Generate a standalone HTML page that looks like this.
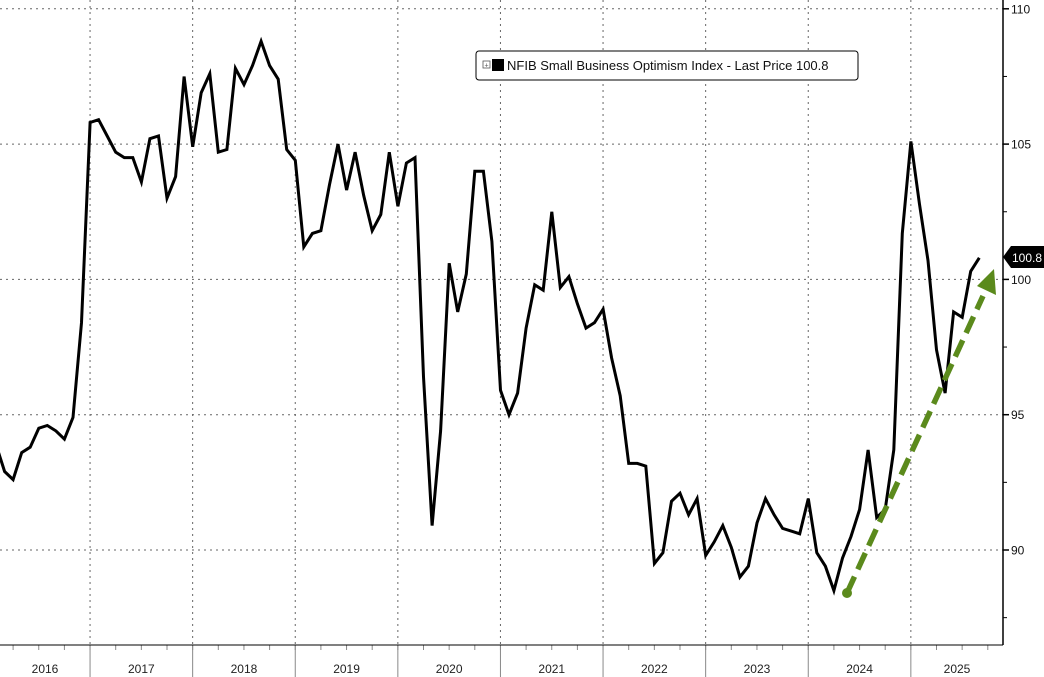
<!DOCTYPE html>
<html><head><meta charset="utf-8"><style>
html,body{margin:0;padding:0;background:#fff;}
svg{display:block;font-family:"Liberation Sans",sans-serif;}
</style></head><body>
<svg width="1044" height="677" viewBox="0 0 1044 677" xmlns="http://www.w3.org/2000/svg">
<rect width="1044" height="677" fill="#fff"/>
<g id="grid" stroke="#666" stroke-width="1" stroke-dasharray="2,4">
</g>
<g id="axes"></g>
<polyline id="line" fill="none" stroke="#000" stroke-width="3" stroke-linejoin="miter"/>
<g id="arrow"></g>
<rect x="476" y="51" width="382" height="29" rx="3" fill="#fff" stroke="#000" stroke-width="1"/>
<rect x="483" y="61" width="7" height="7" fill="none" stroke="#555" stroke-width="0.8"/>
<text x="486.5" y="67.5" font-size="7" text-anchor="middle" fill="#555">+</text>
<rect x="492" y="59" width="12" height="12" fill="#000"/>
<text x="507" y="70" font-size="13" fill="#111">NFIB Small Business Optimism Index - Last Price 100.8</text>
<script>
var d=[93.9,92.9,92.6,93.6,93.8,94.5,94.6,94.4,94.1,94.9,98.4,105.8,
105.9,105.3,104.7,104.5,104.5,103.6,105.2,105.3,103.0,103.8,107.5,104.9,
106.9,107.6,104.7,104.8,107.8,107.2,107.9,108.8,107.9,107.4,104.8,104.4,
101.2,101.7,101.8,103.5,105.0,103.3,104.7,103.1,101.8,102.4,104.7,102.7,
104.3,104.5,96.4,90.9,94.4,100.6,98.8,100.2,104.0,104.0,101.4,95.9,
95.0,95.8,98.2,99.8,99.6,102.5,99.7,100.1,99.1,98.2,98.4,98.9,
97.1,95.7,93.2,93.2,93.1,89.5,89.9,91.8,92.1,91.3,91.9,89.8,
90.3,90.9,90.1,89.0,89.4,91.0,91.9,91.3,90.8,90.7,90.6,91.9,
89.9,89.4,88.5,89.7,90.5,91.5,93.7,91.2,91.5,93.7,101.7,105.1,
102.8,100.7,97.4,95.8,98.8,98.6,100.3,100.8];
function X(i){return -4+i*8.55;}
function Y(v){return 550-(v-90)*27.06;}
var ns="http://www.w3.org/2000/svg";
document.getElementById('line').setAttribute('points',d.map(function(v,i){return X(i).toFixed(1)+','+Y(v).toFixed(1)}).join(' '));
var g=document.getElementById('grid'),a=document.getElementById('axes');
function el(p,t,at,txt){var e=document.createElementNS(ns,t);for(var k in at)e.setAttribute(k,at[k]);if(txt)e.textContent=txt;p.appendChild(e);return e;}
[110,105,100,95,90].forEach(function(v){var y=Y(v);el(g,'line',{x1:0,x2:1003,y1:y,y2:y});
el(a,'line',{x1:1003,x2:1009,y1:y,y2:y,stroke:'#000','stroke-width':1.5});
el(a,'text',{x:1011,y:y+4.5,'font-size':12,fill:'#111'},String(v));});
[107.5,102.5,97.5,92.5,87.5].forEach(function(v){var y=Y(v);el(a,'line',{x1:1003,x2:1007,y1:y,y2:y,stroke:'#000','stroke-width':1});});
var yrs=['2016','2017','2018','2019','2020','2021','2022','2023','2024','2025'];
for(var k=1;k<=9;k++){var x=X(11+12*(k-1));el(g,'line',{x1:x,x2:x,y1:0,y2:645});
el(a,'line',{x1:x,x2:x,y1:645,y2:677,stroke:'#888','stroke-width':1});}
for(var q=-1;q<40;q++){var x=X(2+3*q);if(x>0&&x<1003)el(a,'line',{x1:x,x2:x,y1:645,y2:650,stroke:'#888','stroke-width':1});}
for(var k=0;k<10;k++){var x0=X(-1+12*k),x1=X(11+12*k);if(k==9)x1=1003;var cx=(Math.max(x0,0)+x1)/2;if(k==0)cx=45;if(k==9)cx=957;
el(a,'text',{x:cx,y:673,'font-size':12,'text-anchor':'middle',fill:'#222'},yrs[k]);}
el(a,'line',{x1:0,x2:1003,y1:645,y2:645,stroke:'#000','stroke-width':1});
el(a,'line',{x1:1003,x2:1003,y1:0,y2:645,stroke:'#000','stroke-width':1.5});
el(a,'path',{d:'M1003,257 L1011,246 L1044,246 L1044,268 L1011,268 Z',fill:'#000'});
el(a,'text',{x:1012,y:262,'font-size':12,fill:'#fff'},'100.8');
var ar=document.getElementById('arrow');
el(ar,'line',{x1:847,y1:593,x2:983,y2:296,stroke:'#5b8a1c','stroke-width':5.5,'stroke-dasharray':'18,8'});
el(ar,'circle',{cx:847,cy:593,r:5,fill:'#5b8a1c'});
el(ar,'path',{d:'M994,269 L996,295 L977,286 Z',fill:'#5b8a1c'});
</script>
</svg>
</body></html>
